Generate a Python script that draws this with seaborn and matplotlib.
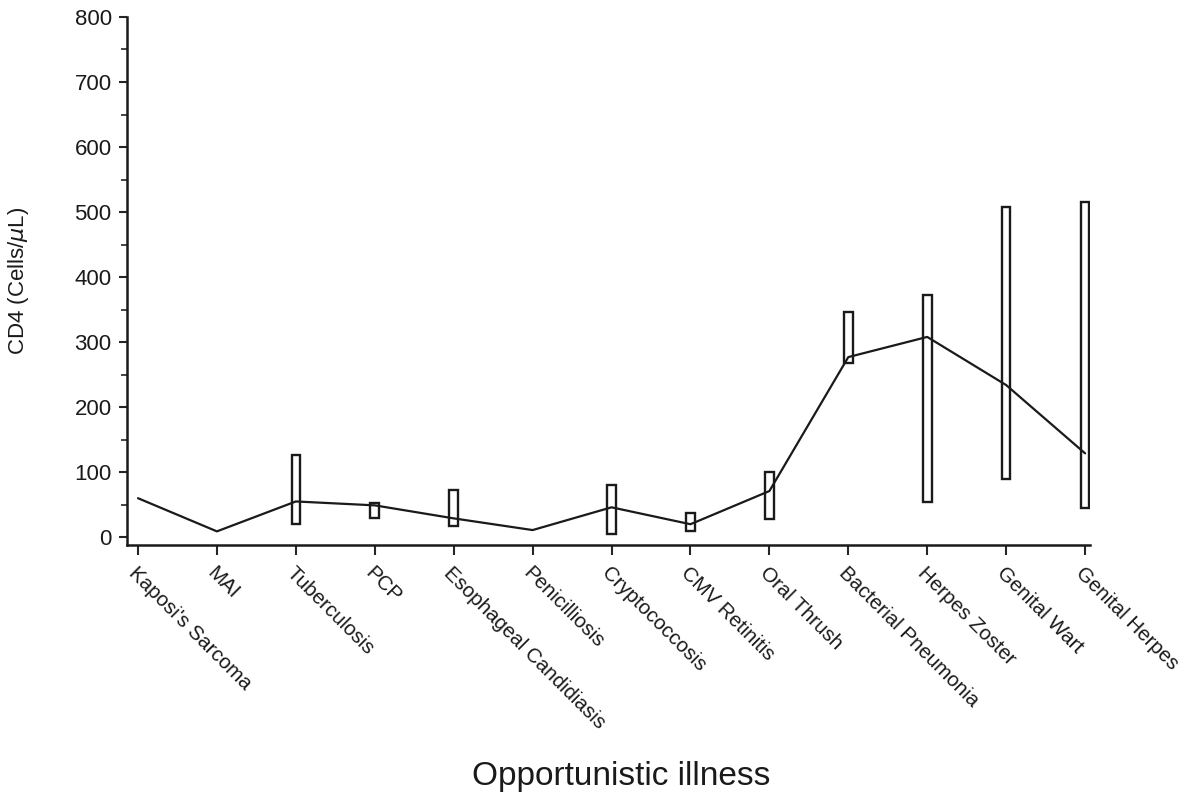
import matplotlib
matplotlib.use("Agg")
import matplotlib.pyplot as plt
from matplotlib.ticker import MultipleLocator
import numpy as np
import pandas as pd
import seaborn as sns

illnesses = ["Kaposi's Sarcoma", "MAI", "Tuberculosis", "PCP", "Esophageal Candidiasis",
             "Penicilliosis", "Cryptococcosis", "CMV Retinitis", "Oral Thrush",
             "Bacterial Pneumonia", "Herpes Zoster", "Genital Wart", "Genital Herpes"]
median_cd4 = [60, 9, 55, 49, 29, 11, 46, 20, 71, 277, 308, 234, 129]
q1_cd4 = [None, None, 20, 29, 17, None, 5, 9, 28, 268, 54, 89, 45]
q3_cd4 = [None, None, 126, 52, 72, None, 80, 38, 100, 346, 372, 508, 515]

sns.set_style("ticks")
plt.rcParams["font.family"] = ["Liberation Sans", "DejaVu Sans"]

pos = np.arange(len(illnesses))
df = pd.DataFrame({"pos": pos, "median": median_cd4})

fig = plt.figure(figsize=(11.82, 7.93), dpi=100)
ax = fig.add_axes([0.1074, 0.3127, 0.8146, 0.6659])

# interquartile boxes
box_pos = [p for p, lo in zip(pos, q1_cd4) if lo is not None]
box_lo = [lo for lo in q1_cd4 if lo is not None]
box_hi = [hi for hi in q3_cd4 if hi is not None]
ax.bar(box_pos, np.array(box_hi) - np.array(box_lo), bottom=box_lo, width=0.11,
       facecolor="white", edgecolor="#1a1a1a", linewidth=1.7, zorder=2)

# median line
sns.lineplot(data=df, x="pos", y="median", color="#1a1a1a", linewidth=1.6, ax=ax, zorder=3)

ax.set_xlim(-0.14, 12.06)
ax.set_ylim(-12, 800)
ax.yaxis.set_major_locator(MultipleLocator(100))
ax.yaxis.set_minor_locator(MultipleLocator(50))
ax.set_xticks(pos)
ax.set_xticklabels(illnesses, rotation=-45, ha="left", va="top",
                   rotation_mode="anchor", fontsize=14.8, color="#1a1a1a")
ax.tick_params(axis="y", which="major", length=6, width=1.5, labelsize=16, pad=5,
               labelcolor="#1a1a1a")
ax.tick_params(axis="y", which="minor", length=4, width=1.2)
ax.tick_params(axis="x", length=7, width=1.5, pad=6)

sns.despine(ax=ax)
for s in ["left", "bottom"]:
    ax.spines[s].set_linewidth(1.8)
    ax.spines[s].set_color("#1a1a1a")

ax.set_xlabel("Opportunistic illness", fontsize=24, color="#1a1a1a", va="center")
ax.xaxis.set_label_coords(0.513, -0.439)
ax.set_ylabel(r"CD4 (Cells/$\mu$L)", fontsize=16, color="#1a1a1a", va="center")
ax.yaxis.set_label_coords(-0.113, 0.5)

fig.savefig("out.png", dpi=100)
